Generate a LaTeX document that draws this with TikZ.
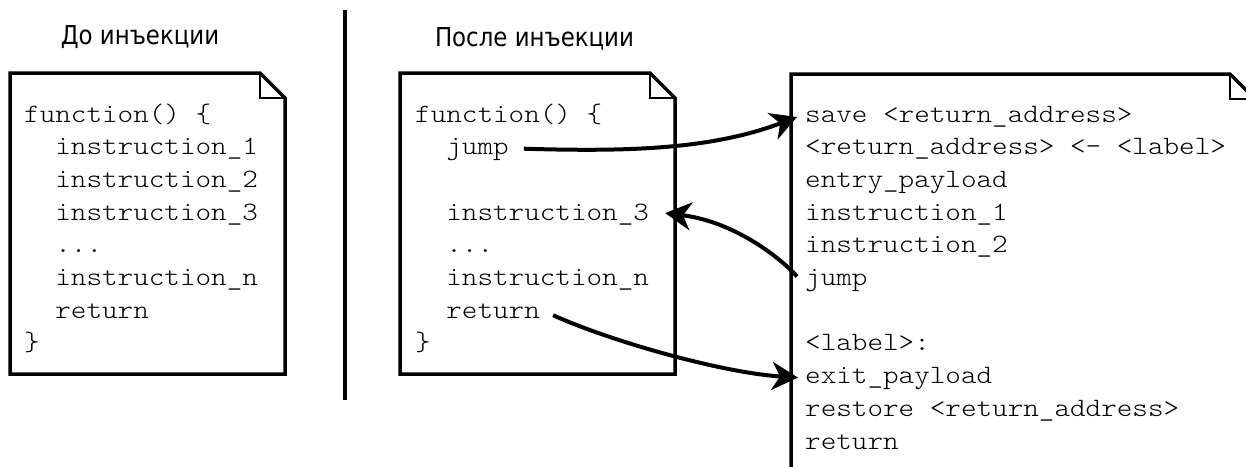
\documentclass[tikz,border=0pt]{standalone}
\usepackage{fontspec}
\newfontfamily\codefont[FakeStretch=1.12]{Latin Modern Mono Light}
\newfontfamily\headfont{DejaVu Sans}
\usetikzlibrary{arrows.meta}
\newcommand\narrowhead[1]{\scalebox{0.88}[1]{#1}}
\tikzset{
  docpage/.style={line width=3.5pt, line join=miter},
  foldline/.style={line width=1.3pt},
  code/.style={font=\codefont\fontsize{26.5}{32}\selectfont, anchor=base west, inner sep=0pt},
  heading/.style={font=\headfont\fontsize{26}{30}\selectfont, anchor=base, inner sep=0pt},
  flow/.style={line width=4pt, -{Stealth[length=26pt,width=28pt,inset=8pt]}},
}
\begin{document}
\begin{tikzpicture}[x=1pt,y=-1pt]
\useasboundingbox (0,0) rectangle (1246,466);
\fill[white] (0,0) rectangle (1246,466);

% headings and divider
\node[heading] (before) at (140,44.5) {\narrowhead{До инъекции}};
\node[heading] (after) at (534.5,46.5) {\narrowhead{После инъекции}};
\draw[line width=3.5pt] (345,10) -- (345,400);

% original function
\draw[docpage] (10,73) -- (260,73) -- (285,98) -- (285,374) -- (10,374) -- cycle;
\draw[foldline] (260,73) -- (260,98) -- (285,98);
\node[code] (a0) at (24,122)    {function() \{};
\node[code] (a1) at (55.2,154.7) {instruction\_1};
\node[code] (a2) at (55.2,187.4) {instruction\_2};
\node[code] (a3) at (55.2,220.1) {instruction\_3};
\node[code] (a4) at (55.2,252.8) {...};
\node[code] (a5) at (55.2,285.5) {instruction\_n};
\node[code] (a6) at (55.2,318.2) {return};
\node[code] (a7) at (24,350.9)  {\}};

% patched function
\draw[docpage] (400,73) -- (650,73) -- (675,98) -- (675,374) -- (400,374) -- cycle;
\draw[foldline] (650,73) -- (650,98) -- (675,98);
\node[code] (b0) at (415,122)     {function() \{};
\node[code] (bjump) at (446.2,154.7) {jump};
\node[code] (binst) at (446.2,220.1) {instruction\_3};
\node[code] (b4) at (446.2,252.8) {...};
\node[code] (b5) at (446.2,285.5) {instruction\_n};
\node[code] (bret) at (446.2,318.2) {return};
\node[code] (b7) at (415,350.9)   {\}};

% injected code
\begin{scope}
\clip (0,0) rectangle (1246,466);
\draw[docpage] (791,520) -- (791,74) -- (1230,74) -- (1255,99) -- (1255,520);
\draw[foldline] (1230,74) -- (1230,99) -- (1255,99);
\end{scope}
\node[code] (csave) at (805,122)   {save <return\_address>};
\node[code] (c1) at (805,154.7)    {<return\_address> <- <label>};
\node[code] (c2) at (805,187.4)    {entry\_payload};
\node[code] (c3) at (805,220.1)    {instruction\_1};
\node[code] (c4) at (805,252.8)    {instruction\_2};
\node[code] (cjump) at (805,285.5) {jump};
\node[code] (c7) at (805,350.9)    {<label>:};
\node[code] (cexit) at (805,383.6) {exit\_payload};
\node[code] (c9) at (805,416.3)    {restore <return\_address>};
\node[code] (c10) at (805,449)     {return};

% control transfers
\draw[flow] ([shift={(15,-6)}]bjump.base east)
  .. controls +(100,3) and +(-87,33) .. ([shift={(-8,-5)}]csave.base west);
\draw[flow] ([shift={(-8,-9)}]cjump.base west)
  .. controls +(-12,-14) and +(73,9) .. ([shift={(16,-7)}]binst.base east);
\draw[flow] ([shift={(13,-3)}]bret.base east)
  .. controls +(55,25) and +(-78,-5) .. ([shift={(-7,-6)}]cexit.base west);
\end{tikzpicture}
\end{document}
